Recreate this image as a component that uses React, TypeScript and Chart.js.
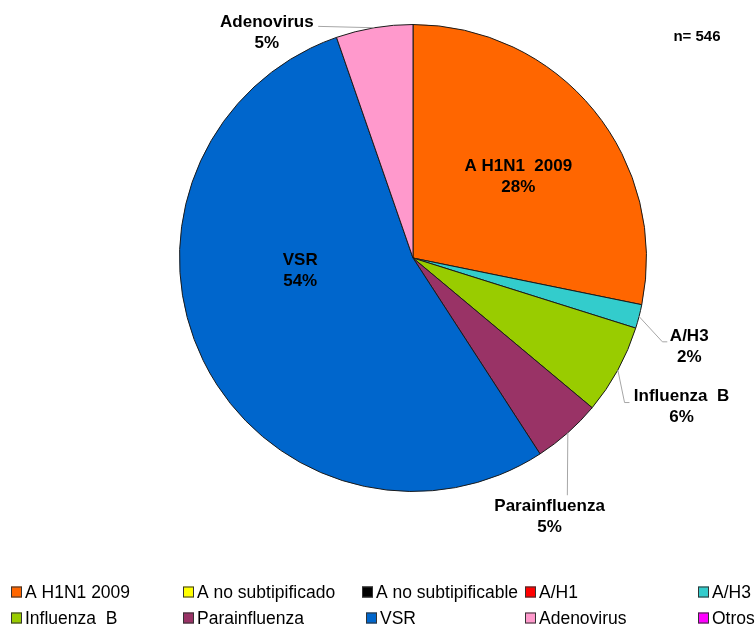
import React, { useEffect, useRef } from "react";
import { Chart, registerables } from "chart.js";

Chart.register(...registerables);

const CATEGORIES = [
  "A H1N1 2009",
  "A no subtipificado",
  "A no subtipificable",
  "A/H1",
  "A/H3",
  "Influenza  B",
  "Parainfluenza",
  "VSR",
  "Adenovirus",
  "Otros",
];
const PIE_LABELS = [
  "A H1N1  2009",
  "",
  "",
  "",
  "A/H3",
  "Influenza  B",
  "Parainfluenza",
  "VSR",
  "Adenovirus",
  "",
];
const VALUES = [154, 0, 0, 0, 9, 34, 26, 294, 29, 0];
const COLORS = [
  "#FF6600",
  "#FFFF00",
  "#000000",
  "#FF0000",
  "#33CCCC",
  "#99CC00",
  "#993366",
  "#0066CC",
  "#FF99CC",
  "#FF00FF",
];
const N_TEXT = "n= 546";

// label layout in units of radius relative to pie centre
type LabelLayout =
  | { kind: "inside"; fx: number; fy: number }
  | { kind: "outside"; fx: number; fy: number; leader: [number, number][] }
  | null;
const LABEL_LAYOUT: LabelLayout[] = [
  { kind: "inside", fx: 0.451, fy: -0.348 },
  null,
  null,
  null,
  { kind: "outside", fx: 1.183, fy: 0.38, leader: [[1.068, 0.359], [1.089, 0.359]] },
  { kind: "outside", fx: 1.15, fy: 0.639, leader: [[0.906, 0.619], [0.927, 0.619]] },
  { kind: "outside", fx: 0.585, fy: 1.107, leader: [[0.661, 1.016]] },
  { kind: "inside", fx: -0.483, fy: 0.056 },
  { kind: "outside", fx: -0.626, fy: -0.966, leader: [[-0.406, -0.992]] },
  null,
];

// legend placement: [boxX, centreY] per item
const LEGEND_POS: [number, number][] = [
  [11, 592],
  [183, 592],
  [362, 592],
  [525, 592],
  [698, 592],
  [11, 618],
  [183, 618],
  [366, 618],
  [525, 618],
  [698, 618],
];

const FONT = '"Liberation Sans", Arial, sans-serif';

const labelPlugin = {
  id: "customLabels",
  afterDatasetsDraw(chart: any) {
    const ctx = chart.ctx as CanvasRenderingContext2D;
    const meta = chart.getDatasetMeta(0);
    const data = chart.data.datasets[0].data as number[];
    const total = data.reduce((a, b) => a + b, 0);
    ctx.save();
    meta.data.forEach((arc: any, i: number) => {
      const lay = LABEL_LAYOUT[i];
      if (!lay || !data[i]) return;
      const { x, y, startAngle, endAngle, outerRadius } = arc.getProps(
        ["x", "y", "startAngle", "endAngle", "outerRadius"],
        true
      );
      const R = outerRadius;
      const pct = Math.round((data[i] / total) * 100) + "%";
      const tx = x + lay.fx * R;
      const ty = y + lay.fy * R;
      if (lay.kind === "outside") {
        const mid = (startAngle + endAngle) / 2;
        ctx.beginPath();
        ctx.strokeStyle = "#a6a6a6";
        ctx.lineWidth = 1;
        ctx.moveTo(x + Math.cos(mid) * R, y + Math.sin(mid) * R);
        lay.leader.forEach(([px, py]) => ctx.lineTo(x + px * R, y + py * R));
        ctx.stroke();
      }
      ctx.fillStyle = "#000000";
      ctx.font = `bold 17px ${FONT}`;
      ctx.textAlign = "center";
      ctx.textBaseline = "middle";
      ctx.fillText(PIE_LABELS[i], tx, ty - 10.5);
      ctx.fillText(pct, tx, ty + 10.5);
    });

    // n label
    ctx.font = `bold 15px ${FONT}`;
    ctx.textAlign = "center";
    ctx.textBaseline = "middle";
    ctx.fillStyle = "#000000";
    ctx.fillText(N_TEXT, 697, 37);

    // legend
    const labels = chart.data.labels as string[];
    const colors = chart.data.datasets[0].backgroundColor as string[];
    ctx.font = `17.5px ${FONT}`;
    ctx.textAlign = "left";
    labels.forEach((lab, i) => {
      const [bx, cy] = LEGEND_POS[i];
      ctx.fillStyle = colors[i];
      ctx.fillRect(bx, cy - 5.5, 11, 11);
      ctx.strokeStyle = "#333333";
      ctx.lineWidth = 1;
      ctx.strokeRect(bx + 0.5, cy - 5, 10, 10);
      ctx.fillStyle = "#000000";
      ctx.fillText(lab, bx + 14, cy + 1);
    });
    ctx.restore();
  },
};

export default function App() {
  const ref = useRef<HTMLCanvasElement | null>(null);
  useEffect(() => {
    document.body.style.margin = "0";
    const canvas = ref.current!;
    const chart = new Chart(canvas, {
      type: "pie",
      data: {
        labels: CATEGORIES,
        datasets: [
          {
            data: VALUES,
            backgroundColor: COLORS,
            borderColor: "#1a1a1a",
            borderWidth: 1,
          },
        ],
      },
      options: {
        responsive: false,
        animation: false,
        layout: { padding: { left: 179, right: 109, top: 24, bottom: 136 } },
        plugins: {
          legend: { display: false },
          tooltip: { enabled: false },
        },
      },
      plugins: [labelPlugin],
    });
    return () => chart.destroy();
  }, []);
  return (
    <div style={{ width: 756, height: 628, background: "#ffffff" }}>
      <canvas ref={ref} width={756} height={628} />
    </div>
  );
}
